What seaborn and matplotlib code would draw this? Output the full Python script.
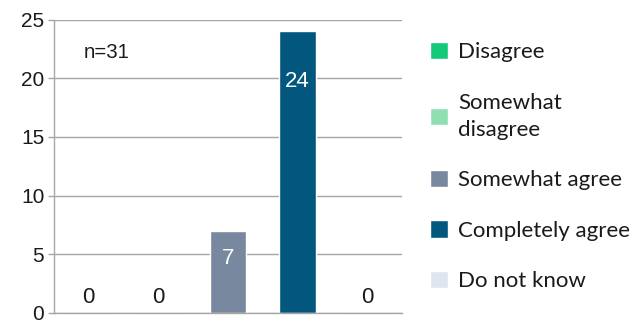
import matplotlib
matplotlib.use("Agg")
import matplotlib.pyplot as plt
import seaborn as sns
import pandas as pd

categories = ["Disagree", "Somewhat\ndisagree", "Somewhat agree", "Completely agree", "Do not know"]
counts = [0, 0, 7, 24, 0]
colors = ["#12CA77", "#8EE0B2", "#77889F", "#03577F", "#DFE5EF"]
yticks = [0, 5, 10, 15, 20, 25]
sample_note = "n=31"

df = pd.DataFrame({"answer": categories, "count": counts})

sns.set_theme(style="white")
plt.rcParams["font.family"] = ["Liberation Sans", "DejaVu Sans"]

fig = plt.figure(figsize=(6.3, 3.23), dpi=100)
ax = fig.add_axes([54 / 630, 1 - 313 / 323, 348 / 630, (313 - 19.5) / 323])

sns.barplot(data=df, x="answer", y="count", hue="answer", palette=colors,
            width=0.53, dodge=False, legend=True, ax=ax, saturation=1)

ax.set_ylim(0, 25)
ax.set_xlim(-0.5, len(categories) - 0.5)
ax.set_yticks(yticks)
ax.set_yticklabels([str(t) for t in yticks], fontsize=15, color="#1a1a1a")
ax.set_xticks([])
ax.set_xlabel("")
ax.set_ylabel("")
ax.yaxis.grid(True, color="#A6A6A6", linewidth=1)
ax.set_axisbelow(True)
ax.tick_params(axis="y", left=True, length=4, width=1, color="#A6A6A6", pad=3)
for side in ["top", "right"]:
    ax.spines[side].set_visible(False)
for side in ["left", "bottom"]:
    ax.spines[side].set_color("#A6A6A6")
    ax.spines[side].set_linewidth(1)

# value labels: zeros sit above the baseline, others inside the bar
for i, v in enumerate(counts):
    if v == 0:
        ax.text(i, 1.3, str(v), ha="center", va="center", fontsize=16, color="#1a1a1a")
    else:
        y = v - (4.3 if v > 10 else 2.4)
        ax.text(i, y, str(v), ha="center", va="center", fontsize=16, color="white")

ax.text(-0.08, 22.2, sample_note, ha="left", va="center", fontsize=14.7, color="#1a1a1a")

leg = ax.legend(loc="upper left", bbox_to_anchor=(430 / 630, 1 - 42 / 323),
                bbox_transform=fig.transFigure, frameon=False,
                prop={"family": "Lato", "size": 16},
                handlelength=0.81, handleheight=0.81, handletextpad=0.45,
                labelspacing=1.36, borderaxespad=0, borderpad=0)
for t in leg.get_texts():
    t.set_color("#1a1a1a")
    t.set_linespacing(1.45)

fig.savefig("out.png", dpi=100)
